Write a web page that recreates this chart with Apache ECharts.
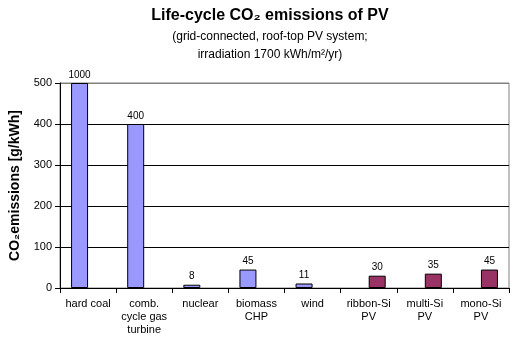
<!DOCTYPE html>
<html><head><meta charset="utf-8">
<script src="https://cdn.jsdelivr.net/npm/echarts@6/dist/echarts.min.js"></script>
<style>html,body{margin:0;padding:0;background:#fff}#c{width:515px;height:341px}</style>
</head><body><div id="c"></div>
<script>
const categories = ['hard coal', 'comb.\ncycle gas\nturbine', 'nuclear', 'biomass\nCHP', 'wind', 'ribbon-Si\nPV', 'multi-Si\nPV', 'mono-Si\nPV'];
const conventional = [1000, 400, 8, 45, 11, null, null, null];
const pv = [null, null, null, null, null, 30, 35, 45];
const yTicks = [0, 100, 200, 300, 400, 500];
const yMax = 500;

const F = 'Liberation Sans, Arial, sans-serif';
function toData(arr) {
  return arr.map(v => v == null ? null : { value: Math.min(v, yMax), real: v });
}
const labelCfg = {
  show: true, position: 'top', distance: 3, color: '#000', fontSize: 10, fontFamily: F,
  formatter: p => p.data ? String(p.data.real) : ''
};
const chart = echarts.init(document.getElementById('c'), null, { renderer: 'canvas' });
chart.setOption({
  animation: false,
  backgroundColor: '#fff',
  title: [
    { text: 'Life-cycle CO₂ emissions of PV', left: 265, textAlign: 'center', top: 3,
      textStyle: { fontFamily: F, fontSize: 16, fontWeight: 'bold', color: '#000' } },
    { text: '(grid-connected, roof-top PV system;\nirradiation 1700 kWh/m²/yr)', left: 265, textAlign: 'center', top: 23,
      textStyle: { fontFamily: F, fontSize: 12, fontWeight: 'normal', color: '#000', lineHeight: 18 } }
  ],
  grid: { left: 54, right: 6, top: 83, bottom: 53, show: true, borderColor: '#808080', borderWidth: 1 },
  xAxis: {
    type: 'category', data: categories,
    axisLine: { lineStyle: { color: '#000', width: 1 } },
    axisTick: { show: true, alignWithLabel: false, length: 5, lineStyle: { color: '#000' } },
    axisLabel: { interval: 0, margin: 9, color: '#000', fontSize: 11, fontFamily: F, lineHeight: 13 }
  },
  yAxis: {
    type: 'value', min: 0, max: yMax, interval: yTicks[1] - yTicks[0],
    name: 'CO₂emissions [g/kWh]', nameLocation: 'middle', nameGap: 38,
    nameTextStyle: { fontFamily: F, fontSize: 14, fontWeight: 'bold', color: '#000' },
    axisLine: { show: true, lineStyle: { color: '#000', width: 1 } },
    axisTick: { show: true, length: 5, lineStyle: { color: '#000' } },
    axisLabel: { color: '#000', fontSize: 11, fontFamily: F, margin: 8 },
    splitLine: { show: true, lineStyle: { color: ['#000', '#000', '#000', '#000', '#000', '#808080'], width: 1 } }
  },
  series: [
    { name: 'conventional', type: 'bar', data: toData(conventional), barWidth: 17, barGap: '0%',
      itemStyle: { color: '#9999FF', borderColor: '#000', borderWidth: 1 }, label: labelCfg },
    { name: 'PV', type: 'bar', data: toData(pv), barWidth: 17, barGap: '0%',
      itemStyle: { color: '#993366', borderColor: '#000', borderWidth: 1 }, label: labelCfg }
  ]
});
</script></body></html>
